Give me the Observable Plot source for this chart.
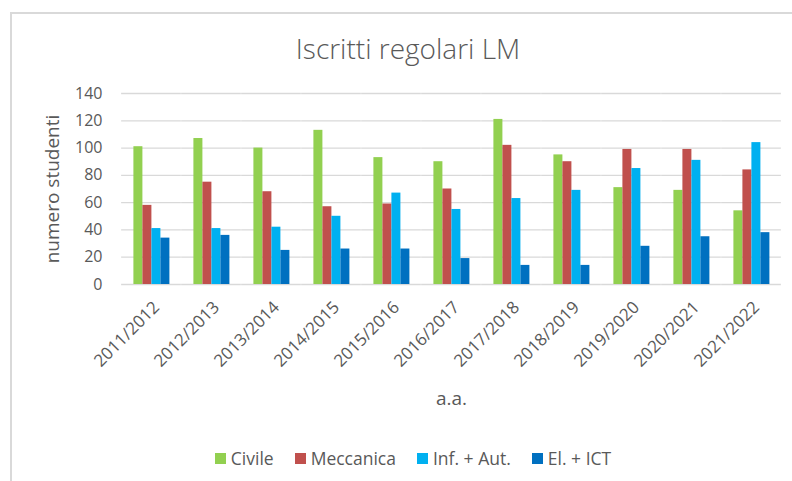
<!DOCTYPE html>
<html>
<head>
<meta charset="utf-8">
<script src="https://cdn.jsdelivr.net/npm/d3@7"></script>
<script src="https://cdn.jsdelivr.net/npm/@observablehq/plot@0.6"></script>
<style>
  html, body { margin: 0; padding: 0; background: #fff; }
  body { width: 792px; height: 481px; position: relative; overflow: hidden; font-family: "Open Sans", sans-serif; color: #595959; }
  #frame { position: absolute; left: 10px; top: 12px; width: 800px; height: 480px; border-left: 2px solid #d9d9d9; border-top: 2px solid #d9d9d9; }
  #title { position: absolute; left: 0; width: 816px; top: 29px; text-align: center; font-size: 28px; font-weight: 300; color: #595959; line-height: 38px; }
  #chart { position: absolute; left: 0; top: 70px; }
  #legend { position: absolute; left: 0; width: 826px; top: 446px; display: flex; justify-content: center; gap: 21px; font-size: 17.5px; line-height: 24px; color: #595959; }
  .item { display: flex; align-items: center; }
  .sw { width: 11px; height: 11px; margin-right: 5px; }
</style>
</head>
<body>
<div id="frame"></div>
<div id="title">Iscritti regolari LM</div>
<div id="chart"></div>
<div id="legend"></div>
<script>
const years = ["2011/2012","2012/2013","2013/2014","2014/2015","2015/2016","2016/2017","2017/2018","2018/2019","2019/2020","2020/2021","2021/2022"];
const series = ["Civile","Meccanica","Inf. + Aut.","El. + ICT"];
const colors = ["#92d050","#c0504d","#00b0f0","#0070c0"];
const civile    = [101,107,100,113, 93, 90,121, 95, 71, 69, 54];
const meccanica = [ 58, 75, 68, 57, 59, 70,102, 90, 99, 99, 84];
const infAut    = [ 41, 41, 42, 50, 67, 55, 63, 69, 85, 91,104];
const elIct     = [ 34, 36, 25, 26, 26, 19, 14, 14, 28, 35, 38];
const yTicks = [0,20,40,60,80,100,120,140];

const seriesValues = [civile, meccanica, infAut, elIct];
const table = years.flatMap((yr, i) => series.map((s, j) => ({year: yr, series: s, value: seriesValues[j][i]})));

const W = 792, ML = 120.6, MR = 10.7, PIN = 0.362;
const step = (W - ML - MR) / years.length;
const halfGap = step * PIN / 2;

const chart = Plot.plot({
  width: W,
  height: 350,
  marginTop: 23,
  marginBottom: 136,
  marginLeft: ML,
  marginRight: MR,
  style: {fontFamily: "Open Sans", fontSize: "16px", color: "#595959", background: "transparent", overflow: "visible"},
  fx: {domain: years, paddingInner: PIN, paddingOuter: PIN / 2, label: null, axis: null},
  x: {domain: series, padding: 0, axis: null},
  y: {domain: [0, 140], axis: null},
  color: {domain: series, range: colors},
  marks: [
    Plot.ruleY(yTicks, {stroke: "#d9d9d9", strokeWidth: 1.3, insetLeft: -halfGap, insetRight: -halfGap}),
    Plot.barY(table, {fx: "year", x: "series", y: "value", fill: "series"}),
    Plot.axisY({ticks: yTicks, tickSize: 0, tickPadding: 30, fontSize: 16, label: null}),
    Plot.axisY({ticks: [], tickSize: 0, fontSize: 19, label: "numero studenti", labelAnchor: "center", labelArrow: "none", labelOffset: 87}),
    Plot.axisFx({anchor: "bottom", tickRotate: -45, tickSize: 0, tickPadding: 20, dx: 5, fontSize: 17, label: null}),
    Plot.axisFx({anchor: "bottom", ticks: [], tickSize: 0, fontSize: 19, label: "a.a.", labelAnchor: "center", labelArrow: "none", labelOffset: 120})
  ]
});
document.getElementById("chart").appendChild(chart);

const legend = document.getElementById("legend");
series.forEach((s, j) => {
  const it = document.createElement("div");
  it.className = "item";
  const sw = document.createElement("span");
  sw.className = "sw";
  sw.style.background = colors[j];
  const t = document.createElement("span");
  t.textContent = s;
  it.appendChild(sw); it.appendChild(t);
  legend.appendChild(it);
});
</script>
</body>
</html>
